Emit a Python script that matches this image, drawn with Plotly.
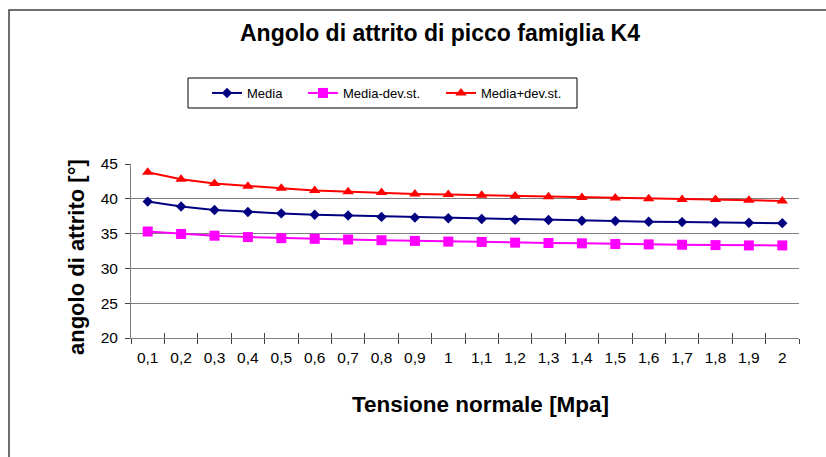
import plotly.graph_objects as go

# Normal stress categories [MPa] and friction angles [deg]
tensione = ["0,1", "0,2", "0,3", "0,4", "0,5", "0,6", "0,7", "0,8", "0,9", "1",
            "1,1", "1,2", "1,3", "1,4", "1,5", "1,6", "1,7", "1,8", "1,9", "2"]
media = [39.6, 38.9, 38.4, 38.1, 37.9, 37.7, 37.6, 37.4, 37.3, 37.2,
         37.1, 37.0, 36.95, 36.85, 36.8, 36.7, 36.65, 36.6, 36.55, 36.5]
media_meno = [35.3, 34.95, 34.7, 34.5, 34.35, 34.25, 34.15, 34.05, 33.95, 33.85,
              33.8, 33.7, 33.65, 33.6, 33.5, 33.45, 33.4, 33.35, 33.3, 33.3]
media_piu = [43.8, 42.8, 42.2, 41.8, 41.5, 41.2, 41.0, 40.9, 40.7, 40.6,
             40.5, 40.4, 40.3, 40.2, 40.1, 40.0, 39.9, 39.9, 39.8, 39.7]
y_ticks = [20, 25, 30, 35, 40, 45]

FONT = "Liberation Sans, Arial, sans-serif"

fig = go.Figure()
fig.add_trace(go.Scatter(
    x=tensione, y=media, name="Media", mode="lines+markers",
    line=dict(color="#000080", width=2),
    marker=dict(symbol="diamond", size=8, color="#000080"),
    xaxis="x2", legend="legend"))
fig.add_trace(go.Scatter(
    x=tensione, y=media_meno, name="Media-dev.st.", mode="lines+markers",
    line=dict(color="#FF00FF", width=2),
    marker=dict(symbol="square", size=10, color="#FF00FF"),
    legend="legend2"))
fig.add_trace(go.Scatter(
    x=tensione, y=media_piu, name="Media+dev.st.", mode="lines+markers",
    line=dict(color="#FF0000", width=2),
    marker=dict(symbol="triangle-up", size=10, color="#FF0000"),
    legend="legend3"))

# plot area in pixels: x 131..799, y 164..338
L, R, T, B = 131, 799, 164, 338
W, H = 826, 457
def px(x):
    return (x - L) / (R - L)
def py(y):
    return (B - y) / (B - T)

leg_common = dict(bgcolor="rgba(0,0,0,0)", borderwidth=0,
                  font=dict(family=FONT, size=13, color="black"),
                  xanchor="left", yanchor="middle", orientation="h")

fig.update_layout(
    width=W, height=H,
    margin=dict(l=L, r=W - R, t=T, b=H - B, pad=0),
    paper_bgcolor="white", plot_bgcolor="white",
    showlegend=True,
    font=dict(family=FONT, color="black"),
    xaxis=dict(type="category", categoryorder="array", categoryarray=tensione,
               range=[-0.5, 19.5], showgrid=False, zeroline=False,
               showline=True, linecolor="#808080", linewidth=1,
               ticks="outside", ticklen=5, tickcolor="#404040", tickwidth=1,
               tickson="boundaries", ticklabelstandoff=5,
               tickfont=dict(family=FONT, size=15.5, color="black"),
               fixedrange=True),
    xaxis2=dict(type="category", categoryorder="array", categoryarray=tensione,
                range=[-0.5, 19.5], overlaying="x", side="bottom",
                showgrid=False, zeroline=False, showline=False,
                ticks="inside", ticklen=5, tickcolor="#404040", tickwidth=1,
                tickson="boundaries", showticklabels=False, fixedrange=True),
    yaxis=dict(range=[20, 45], tickvals=y_ticks, showgrid=True,
               gridcolor="#808080", gridwidth=1, zeroline=False,
               showline=True, linecolor="#808080", linewidth=1,
               ticks="outside", ticklen=5, tickcolor="#404040",
               ticklabelstandoff=4,
               tickfont=dict(family=FONT, size=15.5, color="black"),
               fixedrange=True),
    legend=dict(x=px(207), y=py(93), **leg_common),
    legend2=dict(x=px(303), y=py(93), **leg_common),
    legend3=dict(x=px(441), y=py(93), **leg_common),
)

# legend frame and outer chart frame
fig.add_shape(type="rect", xref="paper", yref="paper",
              x0=px(188), x1=px(577), y0=py(108), y1=py(78),
              line=dict(color="black", width=1), fillcolor="rgba(0,0,0,0)")
fig.add_shape(type="rect", xref="paper", yref="paper",
              x0=px(9), x1=px(900), y0=py(600), y1=py(10),
              line=dict(color="#404040", width=1.5), fillcolor="rgba(0,0,0,0)")

fig.add_annotation(text="<b>Angolo di attrito di picco famiglia K4</b>",
                   xref="paper", yref="paper", x=px(440), y=py(33),
                   xanchor="center", yanchor="middle", showarrow=False,
                   font=dict(family=FONT, size=23, color="black"))
fig.add_annotation(text="<b>Tensione normale [Mpa]</b>",
                   xref="paper", yref="paper", x=px(480), y=py(404),
                   xanchor="center", yanchor="middle", showarrow=False,
                   font=dict(family=FONT, size=22.5, color="black"))
fig.add_annotation(text="<b>angolo di attrito [°]</b>",
                   xref="paper", yref="paper", x=px(76), y=py(257),
                   xanchor="center", yanchor="middle", showarrow=False,
                   textangle=-90,
                   font=dict(family=FONT, size=22, color="black"))

fig.write_html("out.html")
